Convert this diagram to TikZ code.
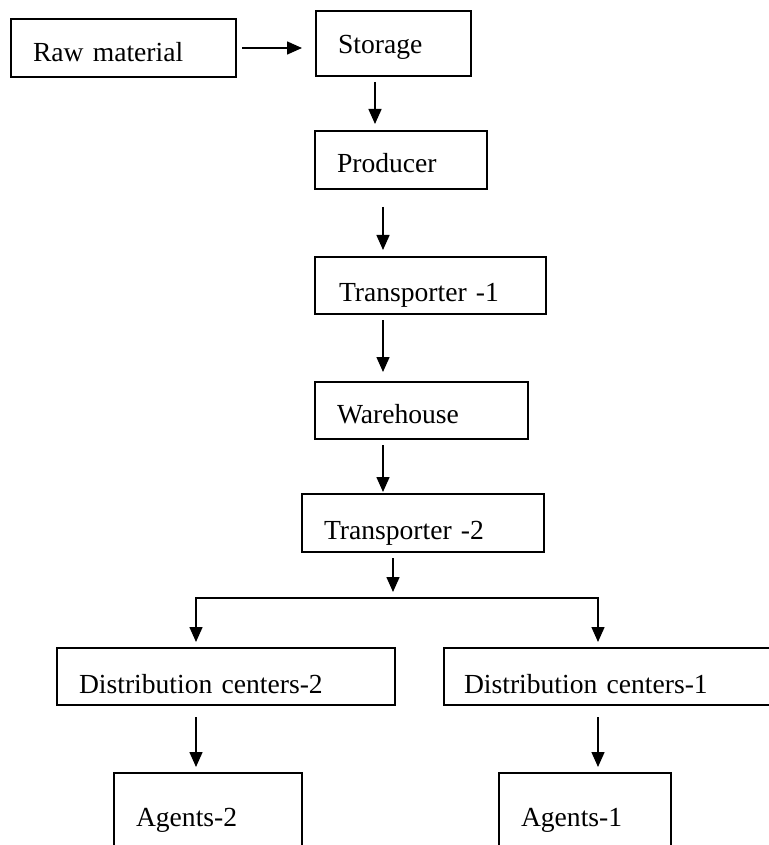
\documentclass[tikz,border=0pt]{standalone}
\usepackage{fontspec}
\setmainfont{Liberation Serif}
\usetikzlibrary{arrows.meta,calc}
\tikzset{
  flowbox/.style={draw, line width=1pt, anchor=north west, inner xsep=11pt, inner ysep=0pt, align=left, font=\fontsize{13.8}{16}\selectfont},
  flowarrow/.style={-{Triangle[length=7.5pt,width=6.5pt]}, line width=0.75pt},
  flowline/.style={line width=0.75pt}
}
\begin{document}
\begin{tikzpicture}[x=0.5pt, y=-0.5pt]
  \useasboundingbox (0,0) rectangle (769,845);
  \clip (0,0) rectangle (769,845);
  % boxes
  \node[flowbox, text width=90.5pt, text height=21.5pt, text depth=7.5pt] (raw) at (10,18) {Raw material};
  \node[flowbox, text width=55.5pt, text height=21.5pt, text depth=11pt] (store) at (315,10) {Storage};
  \node[flowbox, text width=64pt, text height=21pt, text depth=8pt] (prod) at (314,130) {Producer};
  \node[flowbox, inner xsep=12pt, text width=91.5pt, text height=22pt, text depth=6.5pt] (tra1) at (314,256) {Transporter -1};
  \node[flowbox, text width=84.5pt, text height=20.5pt, text depth=8pt] (ware) at (314,381) {Warehouse};
  \node[flowbox, text width=99pt, text height=22.5pt, text depth=6.5pt] (tra2) at (301,493) {Transporter -2};
  \node[flowbox, text width=147pt, text height=22.5pt, text depth=6pt] (dc2) at (56,647) {Distribution centers-2};
  \node[flowbox, inner xsep=10pt, text width=158.5pt, text height=22.5pt, text depth=6pt] (dc1) at (443,647) {Distribution centers-1};
  \node[flowbox, text width=72pt, text height=26.5pt, text depth=20pt] (ag2) at (113,772) {Agents-2};
  \node[flowbox, text width=64pt, text height=26.5pt, text depth=20pt] (ag1) at (498,772) {Agents-1};
  % arrows down the chain
  \draw[flowarrow, shorten <=2.5pt, shorten >=6.5pt] (raw.east) -- (raw.east -| store.west);
  \coordinate (a1) at ($(store.south west)+(60,0)$);
  \draw[flowarrow, shorten <=2.5pt, shorten >=3pt] (a1) -- (a1 |- prod.north);
  \coordinate (a2) at ($(prod.south west)+(69,0)$);
  \draw[flowarrow, shorten <=8.5pt, shorten >=3pt] (a2) -- (a2 |- tra1.north);
  \coordinate (a3) at ($(tra1.south west)+(69,0)$);
  \draw[flowarrow, shorten <=2.5pt, shorten >=4.5pt] (a3) -- (a3 |- ware.north);
  \coordinate (a4) at ($(ware.south west)+(69,0)$);
  \draw[flowarrow, shorten <=2.5pt, shorten >=0.5pt] (a4) -- (a4 |- tra2.north);
  % split to the two distribution centers
  \coordinate (a5) at ($(tra2.south west)+(92,0)$);
  \coordinate (d2) at ($(dc2.north west)+(140,0)$);
  \coordinate (d1) at ($(dc1.north west)+(155,0)$);
  \coordinate (jl) at ($(d2)+(0,-49)$);
  \coordinate (jr) at (jl -| d1);
  \draw[flowarrow, shorten <=2.5pt, shorten >=3pt] (a5) -- (a5 |- jl);
  \draw[flowarrow, shorten >=2.5pt] (jr) -- (jl) -- (d2);
  \draw[flowarrow, shorten >=2.5pt] (jl) -- (jr) -- (d1);
  \draw[flowarrow, shorten <=5.5pt, shorten >=2.5pt] (d2 |- dc2.south) -- (d2 |- ag2.north);
  \draw[flowarrow, shorten <=5.5pt, shorten >=2.5pt] (d1 |- dc1.south) -- (d1 |- ag1.north);
\end{tikzpicture}
\end{document}
